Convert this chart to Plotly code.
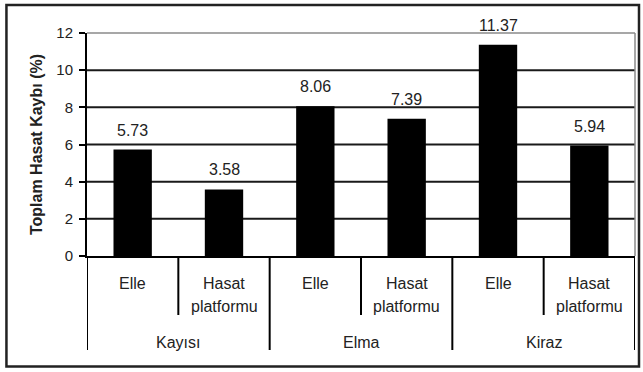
import plotly.graph_objects as go

groups = ["Kayısı", "Elma", "Kiraz"]
methods = ["Elle", "Hasat platformu"]
values = [5.73, 3.58, 8.06, 7.39, 11.37, 5.94]
yticks = [0, 2, 4, 6, 8, 10, 12]

FONT = "Liberation Sans, Arial, sans-serif"
TXT = "#222222"

n = len(values)
xs = list(range(n))

fig = go.Figure()
fig.add_trace(go.Bar(
    x=xs, y=values, marker=dict(color="black", line=dict(width=0)),
    width=0.42, showlegend=False, hoverinfo="skip",
))

# value labels
for i, v in enumerate(values):
    fig.add_annotation(x=i, y=v, text=f"{v:.2f}", showarrow=False,
                       yanchor="bottom", yshift=9,
                       font=dict(family=FONT, size=16, color=TXT))

# category labels
for gi, g in enumerate(groups):
    for mi, m in enumerate(methods):
        idx = gi * len(methods) + mi
        parts = m.split(" ")
        for li, p in enumerate(parts):
            fig.add_annotation(x=idx, y=-0.125 - 0.101 * li, xref="x", yref="paper",
                               text=p, showarrow=False, yanchor="middle",
                               font=dict(family=FONT, size=16, color=TXT))
    center = gi * len(methods) + (len(methods) - 1) / 2
    fig.add_annotation(x=center, y=-0.39, xref="x", yref="paper", text=g,
                       showarrow=False, yanchor="middle",
                       font=dict(family=FONT, size=16, color=TXT))

shapes = []
# horizontal gridlines
for t in yticks[1:-1]:
    shapes.append(dict(type="line", xref="paper", yref="y", x0=0, x1=1, y0=t, y1=t,
                       line=dict(color="#1a1a1a", width=2), layer="below"))
# top and right gray border
shapes.append(dict(type="line", xref="paper", yref="paper", x0=0, x1=1, y0=1, y1=1,
                   line=dict(color="#8a8a8a", width=1.5)))
shapes.append(dict(type="line", xref="paper", yref="paper", x0=1, x1=1, y0=0, y1=1,
                   line=dict(color="#8a8a8a", width=1.5)))
# group dividers
for k in range(len(groups) + 1):
    xv = k * len(methods) - 0.5
    shapes.append(dict(type="line", xref="x", yref="paper", x0=xv, x1=xv, y0=0, y1=-0.4215,
                       line=dict(color="black", width=2)))
# sub dividers
for gi in range(len(groups)):
    xv = gi * len(methods) + 0.5
    shapes.append(dict(type="line", xref="x", yref="paper", x0=xv, x1=xv, y0=0, y1=-0.2646,
                       line=dict(color="black", width=2)))
# outer frame
shapes.append(dict(type="rect", xref="paper", yref="paper",
                   x0=-0.147, x1=1.0073, y0=-0.4955, y1=1.1256,
                   line=dict(color="#222222", width=2.5)))

fig.update_layout(
    width=643, height=372,
    margin=dict(l=87, r=8, t=33, b=116),
    paper_bgcolor="white", plot_bgcolor="white",
    shapes=shapes,
    xaxis=dict(range=[-0.5, n - 0.5], showticklabels=False, showgrid=False,
               zeroline=False, showline=True, linecolor="black", linewidth=2,
               ticks=""),
    yaxis=dict(range=[0, 12], tickvals=yticks, showgrid=False, zeroline=False,
               showline=True, linecolor="black", linewidth=2,
               ticks="outside", ticklen=6, tickwidth=2, tickcolor="black",
               ticklabelstandoff=3,
               tickfont=dict(family=FONT, size=15, color=TXT),
               title=dict(text="<b>Toplam Hasat Kaybı (%)</b>", standoff=10,
                          font=dict(family=FONT, size=16, color=TXT))),
    font=dict(family=FONT),
)

fig.write_html("out.html")
